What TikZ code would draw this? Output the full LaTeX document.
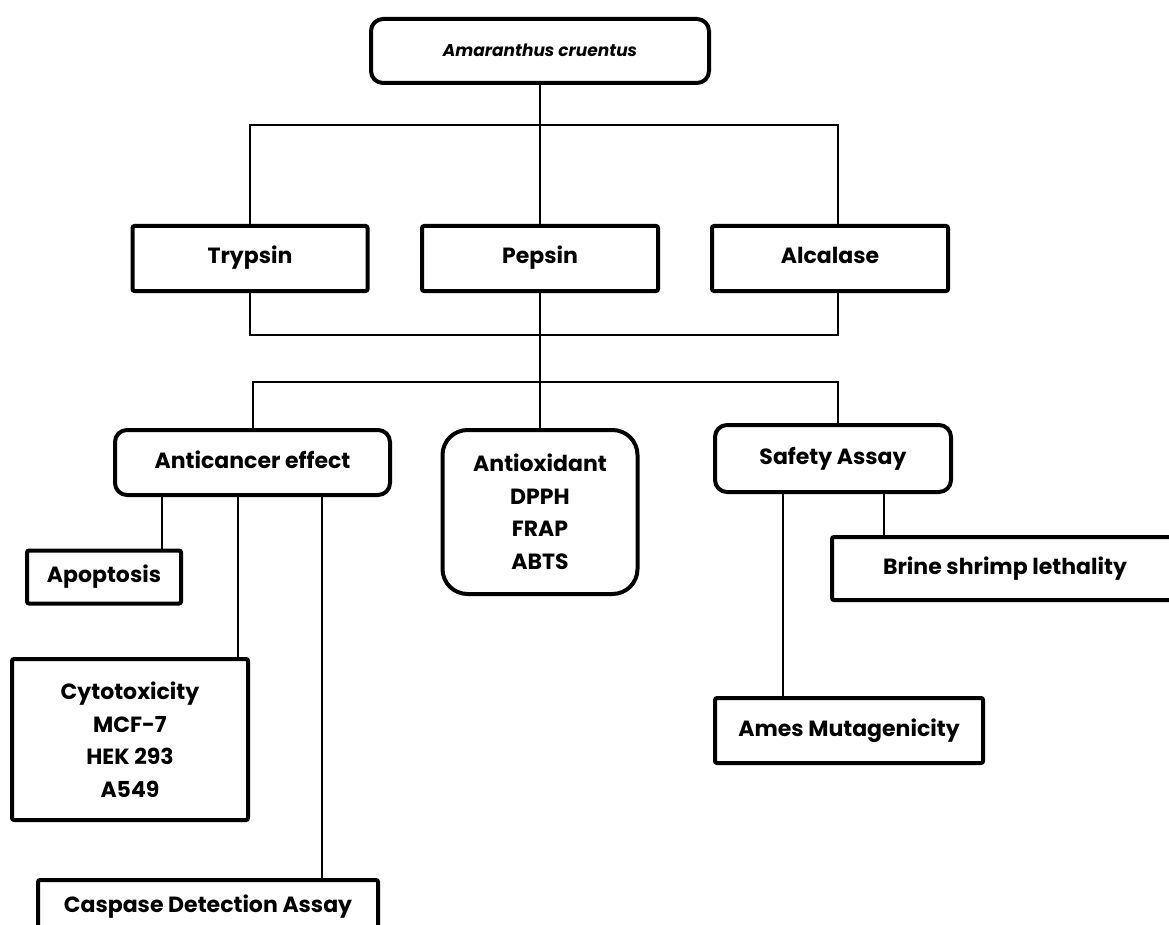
\documentclass[tikz,border=0pt]{standalone}
\usepackage{fontspec}
\setmainfont{Poppins}
\usetikzlibrary{calc}
\begin{document}
\begin{tikzpicture}[x=1pt,y=-1pt,
  box/.style={draw=black,line width=4pt,fill=white,align=center,inner sep=0pt,
    font=\fontsize{22}{32.5}\selectfont\bfseries, rounded corners=2pt},
  rbox/.style={box,rounded corners=12pt},
  one/.style={text height=16pt,text depth=5pt},
  link/.style={draw=black,line width=2pt}]
\clip (0,0) rectangle (1169,925);
\fill[white] (0,0) rectangle (1169,925);
% nodes
\node[rbox,one,minimum width=338pt,minimum height=64pt,font=\fontsize{17}{24}\selectfont\bfseries\itshape] (top) at (540,51) {Amaranthus cruentus};
\node[box,one,minimum width=235pt,minimum height=65pt] (tryp) at (250,258.5) {Trypsin};
\node[box,one,minimum width=236pt,minimum height=65pt] (pep) at (540,258.5) {Pepsin};
\node[box,one,minimum width=236pt,minimum height=65pt] (alc) at (830,258.5) {Alcalase};
\node[rbox,one,minimum width=275pt,minimum height=65pt] (anti) at (252.5,462.5) {Anticancer effect};
\node[rbox,rounded corners=25pt,minimum width=195pt,minimum height=164pt] (aox) at (540,512) {Antioxidant\\DPPH\\FRAP\\ABTS};
\node[rbox,one,minimum width=236pt,minimum height=67pt] (safe) at (833,458.5) {Safety Assay};
\node[box,one,minimum width=154pt,minimum height=53pt] (apo) at (104,577) {Apoptosis};
\node[box,minimum width=236pt,minimum height=161pt] (cyto) at (130,739.5) {Cytotoxicity\\MCF-7\\HEK 293\\A549};
\node[box,one,minimum width=340pt,minimum height=80pt] (casp) at (208,920) {\raisebox{13pt}{Caspase Detection Assay}};
\node[box,one,minimum width=400pt,minimum height=63pt] (brine) at (1032,568.5) {\hspace*{-54pt}Brine shrimp lethality};
\node[box,one,minimum width=268pt,minimum height=65pt] (ames) at (849,730.5) {Ames Mutagenicity};
% helper coordinates
\coordinate (b1) at (540,125);
\coordinate (b2) at (540,335);
\coordinate (b3) at (540,382);
\coordinate (xr) at (838,0);
\coordinate (xa) at (162,0);
\coordinate (xc) at (238,0);
\coordinate (xd) at (322,0);
\coordinate (xm) at (783,0);
\coordinate (xb) at (884,0);
% connectors
\draw[link] (top.south) -- (pep.north);
\draw[link] (tryp.north) |- (b1) -| (alc.north -| xr);
\draw[link] (tryp.south) |- (b2) -| (alc.south -| xr);
\draw[link] (pep.south) -- (b3);
\draw[link] (anti.north) |- (b3) -| (safe.north -| xr);
\draw[link] (b3) -- (aox.north);
\draw[link] (anti.south -| xa) -- (apo.north -| xa);
\draw[link] (anti.south -| xc) -- (cyto.north -| xc);
\draw[link] (anti.south -| xd) -- (casp.north -| xd);
\draw[link] (safe.south -| xm) -- (ames.north -| xm);
\draw[link] (safe.south -| xb) -- (brine.north -| xb);
\end{tikzpicture}
\end{document}
